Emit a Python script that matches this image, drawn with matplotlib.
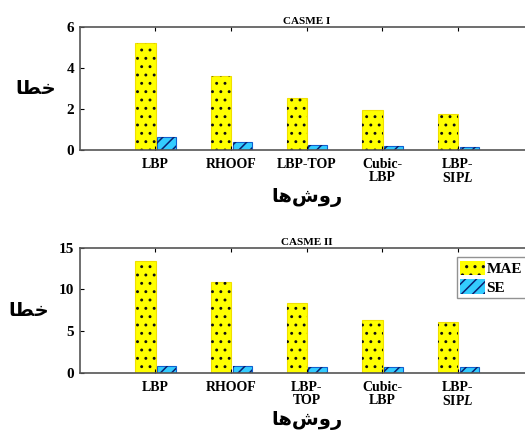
import matplotlib
matplotlib.use("Agg")
import matplotlib.pyplot as plt
from matplotlib.patches import Patch
import numpy as np

plt.rcParams['font.family'] = ['Liberation Serif', 'DejaVu Sans']
plt.rcParams['font.weight'] = 'bold'
plt.rcParams['mathtext.fontset'] = 'custom'
plt.rcParams['mathtext.it'] = 'Liberation Serif:italic:bold'

labels_1 = ["LBP", "RHOOF", "LBP-TOP", "Cubic-\nLBP", "LBP-\nSIP$\\mathit{L}$"]
labels_2 = ["LBP", "RHOOF", "LBP-\nTOP", "Cubic-\nLBP", "LBP-\nSIP$\\mathit{L}$"]
mae_1 = [5.2, 3.62, 2.55, 1.95, 1.76]
se_1 = [0.65, 0.4, 0.24, 0.2, 0.16]
mae_2 = [13.4, 10.85, 8.37, 6.35, 6.03]
se_2 = [0.84, 0.8, 0.72, 0.7, 0.68]

ylabel = "\uFE8E\uFEC4\uFEA7"               # خطا
xlabel = "\uFE8E\uFEEB\uFEB5\uFEED\uFEAD"   # روش‌ها

fig = plt.figure(figsize=(5.25, 4.41), dpi=100)
ax1 = fig.add_axes([0.152, 0.66, 0.864, 0.279])
ax2 = fig.add_axes([0.152, 0.155, 0.864, 0.283])


def draw(ax, mae, se, labels, title, ymax, yticks, legend=False):
    x = np.arange(1, len(mae) + 1)
    # filled bars, then a transparent copy carrying the dark hatch
    ax.bar(x - 0.13, mae, 0.27, color='#ffff00', edgecolor='#f0e000', linewidth=0.8)
    plt.rcParams['hatch.linewidth'] = 0.9
    ax.bar(x - 0.13, mae, 0.27, fill=False, edgecolor='#111111', hatch='..', linewidth=0)
    ax.bar(x + 0.15, se, 0.25, color='#33ccff', edgecolor='#1060d0', linewidth=0.8)
    plt.rcParams['hatch.linewidth'] = 1.1
    ax.bar(x + 0.15, se, 0.25, fill=False, edgecolor='#0a2070', hatch='///', linewidth=0)
    ax.set_xlim(0, 6)
    ax.set_ylim(0, ymax)
    ax.set_xticks(x)
    ax.set_xticklabels(labels, fontsize=10, fontweight='bold', linespacing=1.0)
    ax.set_yticks(yticks)
    ax.tick_params(axis='y', labelsize=11, direction='in', length=3, pad=4)
    ax.tick_params(axis='x', direction='in', length=3, top=True, pad=6)
    for s in ax.spines.values():
        s.set_color('#555555')
        s.set_linewidth(1.2)
    ax.set_title(title, fontsize=8, fontweight='bold', pad=2)
    ax.set_xlabel(xlabel, family=['DejaVu Sans'], fontsize=14, fontweight='bold',
                  labelpad=2)
    ax.set_ylabel(ylabel, family=['DejaVu Sans'], fontsize=14, fontweight='bold',
                  rotation=0, labelpad=22, va='center')
    if legend:
        plt.rcParams['hatch.linewidth'] = 0.9
        h1 = Patch(facecolor='#ffff00', edgecolor='#111111', hatch='..', linewidth=0)
        plt.rcParams['hatch.linewidth'] = 1.1
        h2 = Patch(facecolor='#33ccff', edgecolor='#0a2070', hatch='///', linewidth=0)
        ax.legend([h1, h2], ['MAE', 'SE'], loc='upper right', handlelength=1.6,
                  handleheight=1.1, handletextpad=0.1, borderpad=0.25,
                  labelspacing=0.2, fancybox=False, edgecolor='#777777',
                  bbox_to_anchor=(1.0, 0.99), prop={'weight': 'bold', 'size': 11})


draw(ax1, mae_1, se_1, labels_1, "CASME I", 6, [0, 2, 4, 6])
draw(ax2, mae_2, se_2, labels_2, "CASME II", 15, [0, 5, 10, 15], legend=True)

fig.savefig("out.png", dpi=100)
